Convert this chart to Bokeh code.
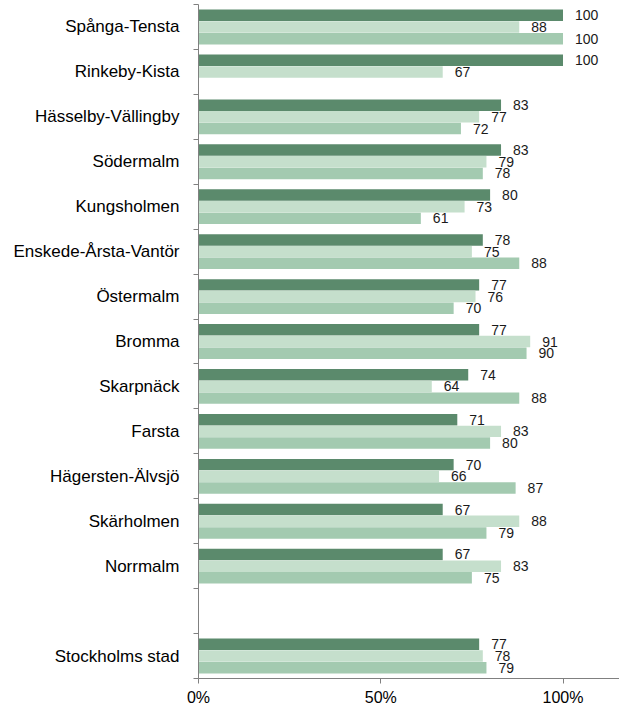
from bokeh.plotting import figure
from bokeh.models import ColumnDataSource, FixedTicker, NumeralTickFormatter
from bokeh.core.properties import value
from bokeh.embed import file_html
from bokeh.resources import INLINE

categories = ["Spånga-Tensta", "Rinkeby-Kista", "Hässelby-Vällingby", "Södermalm",
              "Kungsholmen", "Enskede-Årsta-Vantör", "Östermalm", "Bromma",
              "Skarpnäck", "Farsta", "Hägersten-Älvsjö", "Skärholmen", "Norrmalm",
              "Stockholms stad"]
series1 = [100, 100, 83, 83, 80, 78, 77, 77, 74, 71, 70, 67, 67, 77]
series2 = [88, 67, 77, 79, 73, 75, 76, 91, 64, 83, 66, 88, 83, 78]
series3 = [100, None, 72, 78, 61, 88, 70, 90, 88, 80, 87, 79, 75, 79]
colors = ["#5b8a6c", "#c5dfcc", "#a3cab0"]
x_ticks = [0, 0.5, 1.0]

# slot positions: 13 districts, one empty slot, then the city total
n = len(categories)
ypos = []
for i in range(n):
    slot = i if i < n - 1 else i + 1
    ypos.append(14 - slot)

FONT = "Liberation Sans"

p = figure(width=619, height=708, output_backend="svg", toolbar_location=None,
           x_range=(0, 1.155), y_range=(-0.5, 14.5),
           min_border_left=198, min_border_right=0, min_border_top=4)
p.outline_line_color = None
p.xgrid.visible = False
p.ygrid.visible = False

offsets = [0.26, 0.0, -0.26]
for s, (vals, col, off) in enumerate(zip([series1, series2, series3], colors, offsets)):
    xs, ys, labels = [], [], []
    for v, y in zip(vals, ypos):
        if v is None:
            continue
        xs.append(v / 100.0)
        ys.append(y + off)
        labels.append(str(v))
    src = ColumnDataSource(dict(x=xs, y=ys, label=labels))
    p.hbar(y="y", right="x", left=0, height=0.255, source=src,
           fill_color=col, line_color=None)
    p.text(x="x", y="y", text="label", source=src, x_offset=12,
           text_align="left", text_baseline="middle",
           text_font=value(FONT), text_font_size="14px", text_color="#1a1a1a")

# y axis: labels at category centres, ticks at category boundaries
yax = p.yaxis[0]
yax.ticker = FixedTicker(ticks=ypos, minor_ticks=[k - 0.5 for k in range(16)])
yax.major_label_overrides = {y: c for y, c in zip(ypos, categories)}
yax.major_tick_out = 0
yax.major_tick_in = 0
yax.minor_tick_out = 5
yax.minor_tick_in = 0
yax.major_label_standoff = 14
yax.major_label_text_font = FONT
yax.major_label_text_font_size = "17px"
yax.major_label_text_color = "#000000"
yax.axis_line_color = "#808080"
yax.minor_tick_line_color = "#808080"

xax = p.xaxis[0]
xax.ticker = FixedTicker(ticks=x_ticks, minor_ticks=[])
xax.formatter = NumeralTickFormatter(format="0%")
xax.major_tick_out = 5
xax.major_tick_in = 0
xax.major_label_standoff = 5
xax.major_label_text_font = FONT
xax.major_label_text_font_size = "16px"
xax.major_label_text_color = "#000000"
xax.axis_line_color = "#808080"
xax.major_tick_line_color = "#808080"

open("out.html", "w").write(file_html(p, INLINE))
